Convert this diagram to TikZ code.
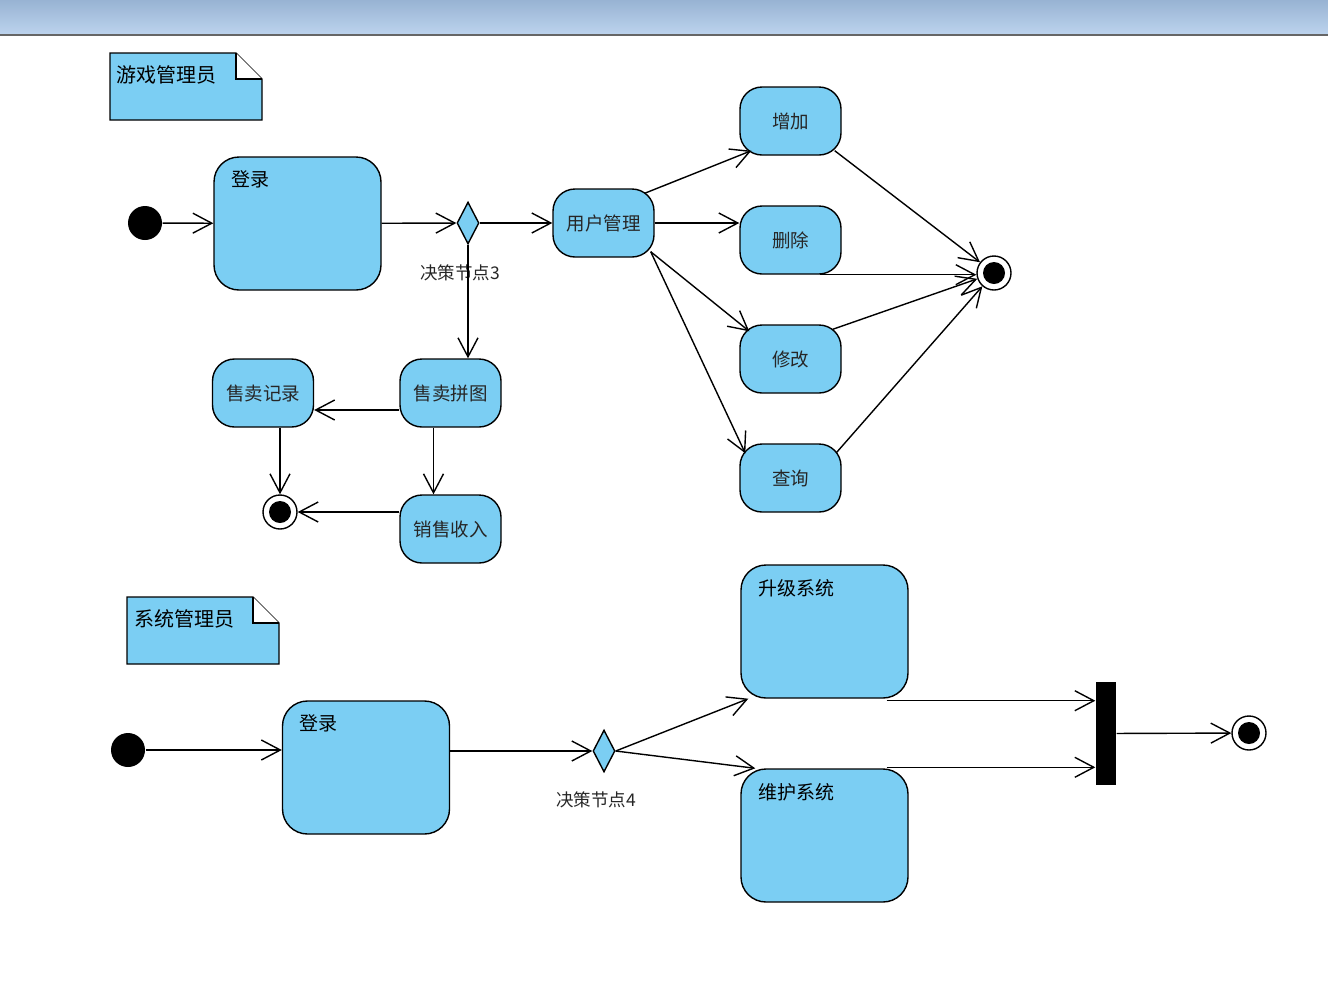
\documentclass[tikz,border=0pt]{standalone}
\usepackage{fontspec}
\setmainfont{Noto Sans CJK SC}
\usetikzlibrary{arrows.meta,shapes.geometric}
\definecolor{umlblue}{HTML}{7BCEF3}
\definecolor{bartop}{HTML}{98B3D3}
\definecolor{barbottom}{HTML}{BDD4EE}
\tikzset{
  act/.style={draw, fill=umlblue, rounded corners=22pt, minimum width=101pt, minimum height=68pt, inner sep=0pt, text=black!85, font=\fontsize{18.5}{20}\selectfont},
  bigact/.style={draw, fill=umlblue, rounded corners=25pt, minimum width=167pt, minimum height=133pt, inner sep=0pt},
  boxtitle/.style={anchor=north west, inner sep=0pt, xshift=17pt, yshift=-14pt, font=\fontsize{19}{20}\selectfont},
  startnode/.style={circle, fill=black, minimum size=34pt, inner sep=0pt},
  endnode/.style={circle, draw, fill=white, minimum size=34pt, inner sep=0pt, path picture={\fill[black] (path picture bounding box.center) circle (11pt);}},
  choice/.style={diamond, draw, fill=umlblue, minimum width=22pt, minimum height=42pt, inner sep=0pt},
  notebox/.style={draw, fill=umlblue},
  notetext/.style={anchor=west, inner sep=0pt, font=\fontsize{20}{22}\selectfont},
  joinbar/.style={fill=black, minimum width=20pt, minimum height=103pt, inner sep=0pt},
  guard/.style={font=\fontsize{17.5}{20}\selectfont, text=black!85},
}
\begin{document}
\begin{tikzpicture}[x=1pt, y=-1pt, line width=1.4pt, >={Straight Barb[length=19pt,width=20pt]}]
	\useasboundingbox (0,0) rectangle (1328,994);
	\shade[top color=bartop, bottom color=barbottom] (0,0) rectangle (1328,35);
	\draw[black!60] (0,35) -- (1328,35);
	% game administrator
	\filldraw[notebox] (110,53) -- (236,53) -- (262,79) -- (262,120) -- (110,120) -- cycle;
	\filldraw[notebox, fill=white] (236,53) -- (236,79) -- (262,79);
	\node[notetext] (n1) at (116,75) {游戏管理员};
	\node[startnode] (1) at (145,223) {};
	\node[bigact, label={[boxtitle]north west:登录}] (2) at (297.5,223.5) {};
	\node[choice] (3) at (468,223) {};
	\node[guard] (4) at (460,273) {决策节点3};
	\node[act] (5) at (603.5,223) {用户管理};
	\node[act] (6) at (790.5,121) {增加};
	\node[act] (7) at (790.5,240) {删除};
	\node[act] (8) at (790.5,359) {修改};
	\node[act] (9) at (790.5,478) {查询};
	\node[endnode] (10) at (994,273) {};
	\node[act] (11) at (450.5,393) {售卖拼图};
	\node[act] (12) at (263,393) {售卖记录};
	\node[act] (13) at (450.5,529) {销售收入};
	\node[endnode] (14) at (280,512) {};
	\draw[->] (1) -- (2);
	\draw[->] (2) -- (3);
	\draw[->] (3) -- (5);
	\draw[->] (3.south) -- (3.south |- 11.north);
	\draw[->] ([xshift=-10pt,yshift=-5pt]5.north east) -- ([xshift=12pt,yshift=5pt]6.south west);
	\draw[->] (5.east) -- (5.east -| 7.west);
	\draw[->] ([xshift=-4pt,yshift=6pt]5.south east) -- ([xshift=10pt,yshift=-7pt]8.north west);
	\draw[->] ([xshift=-4pt,yshift=6pt]5.south east) -- ([xshift=6pt,yshift=-10pt]9.north west);
	\draw[->] ([xshift=-7pt,yshift=5pt]6.south east) -- (10);
	\draw[->] ([xshift=-22pt]7.south east) -- (10.west |- 7.south);
	\draw[->] ([xshift=-9pt,yshift=-5pt]8.north east) -- (10);
	\draw[->] ([xshift=-5pt,yshift=-9pt]9.north east) -- (10);
	\draw[->] ([yshift=-17pt]11.west) -- ([yshift=-17pt]12.east);
	\draw[->] ([xshift=-17pt]11.south) -- ([xshift=-17pt]13.north);
	\draw[->] (14 |- 12.south) -- (14);
	\draw[->] (13.west |- 14) -- (14);
	% system administrator
	\filldraw[notebox] (127,597) -- (253,597) -- (279,623) -- (279,664) -- (127,664) -- cycle;
	\filldraw[notebox, fill=white] (253,597) -- (253,623) -- (279,623);
	\node[notetext] (n2) at (134,619) {系统管理员};
	\node[startnode] (15) at (128,750) {};
	\node[bigact, label={[boxtitle]north west:登录}] (16) at (366,767.5) {};
	\node[choice] (17) at (604,751) {};
	\node[guard] (18) at (596,800) {决策节点4};
	\node[bigact, label={[boxtitle]north west:升级系统}] (19) at (824.5,631.5) {};
	\node[bigact, label={[boxtitle]north west:维护系统}] (20) at (824.5,835.5) {};
	\node[joinbar] (21) at (1106,733.5) {};
	\node[endnode] (22) at (1249,733) {};
	\draw[->] (15) -- (15 -| 16.west);
	\draw[->] (16.east |- 17) -- (17);
	\draw[->] (17.east) -- ([xshift=8pt]19.south west);
	\draw[->] (17.east) -- ([xshift=15pt]20.north west);
	\draw[->] ([xshift=-22pt,yshift=-2pt]19.south east) -- ([yshift=-2pt]19.south east -| 21.west);
	\draw[->] ([xshift=-22pt,yshift=1pt]20.north east) -- ([yshift=1pt]20.north east -| 21.west);
	\draw[->] (21) -- (22);
\end{tikzpicture}
\end{document}
